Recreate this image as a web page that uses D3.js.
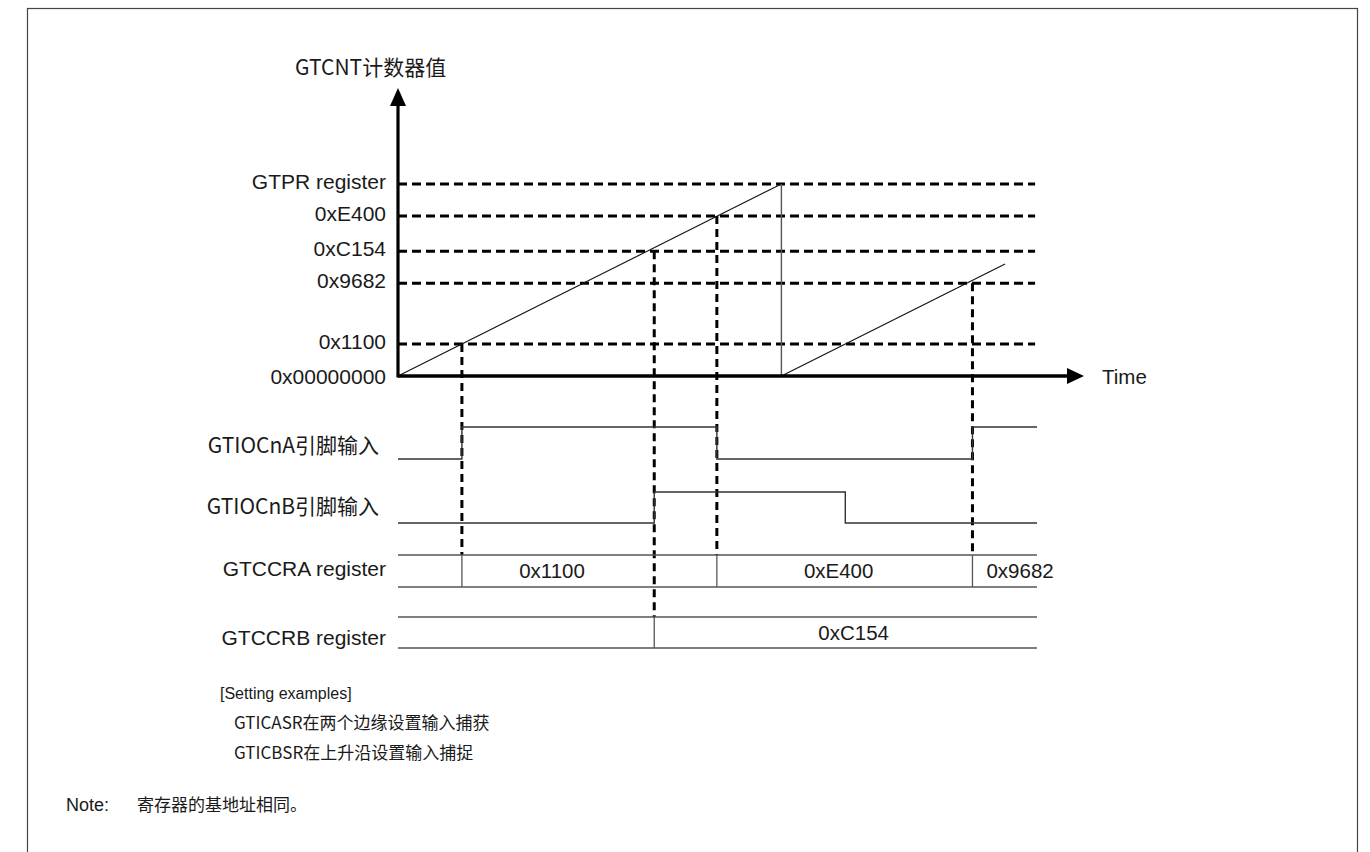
<!DOCTYPE html>
<html>
<head>
<meta charset="utf-8">
<script src="https://cdn.jsdelivr.net/npm/d3@7/dist/d3.min.js"></script>
<style>
  html, body { margin: 0; padding: 0; background: #fff; }
  svg { display: block; }
  .lat { font-family: "Liberation Sans", Arial, sans-serif; fill: #1a1a1a; }
  .cjk { font-family: "Noto Sans CJK SC", "Noto Sans", sans-serif; fill: #1a1a1a; }
</style>
</head>
<body>
<svg id="chart" width="1370" height="852"></svg>
<script>
// ---------------- data ----------------
const timeDomain = [0, 100];                       // schematic time units
const levelNames  = ["0x00000000", "0x1100", "0x9682", "0xC154", "0xE400", "GTPR register"];
const levelValues = [0, 1, 2.9, 3.9, 5, 6];         // schematic counter levels

// GTCNT counter sawtooth: two ramps
const ramp1Times = [0, 60];   const ramp1Levels = [0, 6];
const ramp2Times = [60, 95];  const ramp2Levels = [0, 3.5];

// capture events
const captureTimes  = [10, 40.1, 49.9, 89.9];
const captureLevel  = ["0x1100", "0xC154", "0xE400", "0x9682"];
const captureTarget = ["A", "B", "A", "A"];

// input pin waveforms (state after each time)
const pinATimes  = [0, 10, 49.9, 89.9, 100];
const pinAStates = [0, 1, 0, 1, 1];
const pinBTimes  = [0, 40.1, 70, 100];
const pinBStates = [0, 1, 0, 0];

// register contents
const gtccraValues = ["0x1100", "0xE400", "0x9682"];
const gtccrbValues = ["0xC154"];

const yAxisTitle = "GTCNT计数器值";
const xAxisTitle = "Time";
const rowLabels = ["GTIOCnA引脚输入", "GTIOCnB引脚输入", "GTCCRA register", "GTCCRB register"];
const notesHeader = "[Setting examples]";
const notesLines = ["GTICASR在两个边缘设置输入捕获", "GTICBSR在上升沿设置输入捕捉"];
const noteLabel = "Note:";
const noteText = "寄存器的基地址相同。";

// ---------------- layout ----------------
const svg = d3.select("#chart");
const x = d3.scaleLinear().domain(timeDomain).range([398, 1037]);
const y = d3.scaleLinear().domain([0, 6]).range([376, 184]);
const levelY = name => y(levelValues[levelNames.indexOf(name)]);

// frame
svg.append("rect").attr("x", 27.5).attr("y", 8.5).attr("width", 1330).attr("height", 900)
  .attr("fill", "none").attr("stroke", "#444").attr("stroke-width", 1.2);

// dashed level lines
svg.append("g").selectAll("line").data(levelValues.slice(1)).join("line")
  .attr("x1", x(0)).attr("x2", x(99.7))
  .attr("y1", d => y(d)).attr("y2", d => y(d))
  .attr("stroke", "#000").attr("stroke-width", 3).attr("stroke-dasharray", "9,5");

// level labels
svg.append("g").selectAll("text").data(levelNames).join("text")
  .attr("class", "lat").attr("font-size", 21).attr("text-anchor", "end")
  .attr("x", 386).attr("y", (d, i) => y(levelValues[i]) + (i === 0 ? 8 : 5))
  .text(d => d);

// signal rows
const rowA = {lo: 459, hi: 427};
const rowB = {lo: 523, hi: 492};
const regA = {top: 555, bot: 587};
const regB = {top: 617, bot: 648};

// vertical capture dashed lines
svg.append("g").selectAll("line").data(captureTimes).join("line")
  .attr("x1", d => x(d)).attr("x2", d => x(d))
  .attr("y1", (d, i) => levelY(captureLevel[i]))
  .attr("y2", (d, i) => captureTarget[i] === "A" ? regA.top : regB.top)
  .attr("stroke", "#000").attr("stroke-width", 3).attr("stroke-dasharray", "8,5");

// ramps
const rampLine = d3.line().x(d => x(d[0])).y(d => y(d[1]));
[[ramp1Times, ramp1Levels], [ramp2Times, ramp2Levels]].forEach(([t, l]) => {
  svg.append("path").attr("d", rampLine(t.map((v, i) => [v, l[i]])))
    .attr("fill", "none").attr("stroke", "#111").attr("stroke-width", 1.1);
});
// reset drop
svg.append("line").attr("x1", x(ramp1Times[1])).attr("x2", x(ramp1Times[1]))
  .attr("y1", y(ramp1Levels[1])).attr("y2", y(0))
  .attr("stroke", "#555").attr("stroke-width", 1.4);

// axes
svg.append("line").attr("x1", x(0)).attr("x2", x(0)).attr("y1", y(0) + 1.5).attr("y2", 104)
  .attr("stroke", "#000").attr("stroke-width", 3.2);
svg.append("path").attr("d", `M${x(0)},88 L${x(0) - 8},106 L${x(0) + 8},106 Z`).attr("fill", "#000");
svg.append("line").attr("x1", x(0)).attr("x2", 1069).attr("y1", y(0)).attr("y2", y(0))
  .attr("stroke", "#000").attr("stroke-width", 3.4);
svg.append("path").attr("d", `M1084,${y(0)} L1067,${y(0) - 8} L1067,${y(0) + 8} Z`).attr("fill", "#000");

svg.append("text").attr("class", "cjk").attr("font-size", 21)
  .attr("x", 295).attr("y", 75).text(yAxisTitle);
svg.append("text").attr("class", "lat").attr("font-size", 20.5)
  .attr("x", 1102).attr("y", 384).text(xAxisTitle);

// pin waveforms
function wave(times, states, row) {
  const ys = d3.scaleOrdinal().domain([0, 1]).range([row.lo, row.hi]);
  const ln = d3.line().x(d => x(d[0])).y(d => ys(d[1])).curve(d3.curveStepAfter);
  svg.append("path").attr("d", ln(times.map((t, i) => [t, states[i]])))
    .attr("fill", "none").attr("stroke", "#333").attr("stroke-width", 1.4);
}
wave(pinATimes, pinAStates, rowA);
wave(pinBTimes, pinBStates, rowB);

// register bands
const sortedCaps = captureTimes.slice().sort((a, b) => a - b);
function bandLines(row, capT) {
  const g = svg.append("g");
  [row.top, row.bot].forEach(yy => g.append("line")
    .attr("x1", x(0)).attr("x2", x(100)).attr("y1", yy).attr("y2", yy)
    .attr("stroke", "#555").attr("stroke-width", 1.3));
  g.selectAll("line.sep").data(capT).join("line").attr("class", "sep")
    .attr("x1", d => x(d)).attr("x2", d => x(d)).attr("y1", row.top).attr("y2", row.bot)
    .attr("stroke", "#555").attr("stroke-width", 1.3);
  return g;
}

// GTCCRA: each value is centred between its capture and the next capture event
(function () {
  const capT = captureTimes.filter((t, i) => captureTarget[i] === "A");
  const g = bandLines(regA, capT);
  gtccraValues.forEach((v, i) => {
    const t0 = capT[i];
    const next = sortedCaps.find(t => t > t0);
    const t = g.append("text").attr("class", "lat").attr("font-size", 20.5)
      .attr("y", (regA.top + regA.bot) / 2 + 7).text(v);
    if (next !== undefined) t.attr("text-anchor", "middle").attr("x", x((t0 + next) / 2) - 6);
    else t.attr("text-anchor", "start").attr("x", x(t0) + 14);
  });
})();

// GTCCRB: value spans from its capture to the end of the window
(function () {
  const capT = captureTimes.filter((t, i) => captureTarget[i] === "B");
  const g = bandLines(regB, capT);
  gtccrbValues.forEach((v, i) => {
    g.append("text").attr("class", "lat").attr("font-size", 20.5).attr("text-anchor", "middle")
      .attr("x", x((capT[i] + timeDomain[1]) / 2) + 8).attr("y", (regB.top + regB.bot) / 2 + 7).text(v);
  });
})();

// row labels
const rowLabelY = [453, 514, 576, 645];
rowLabels.forEach((lbl, i) => {
  const isCjk = i < 2;
  svg.append("text").attr("class", isCjk ? "cjk" : "lat").attr("font-size", 21)
    .attr("text-anchor", "end").attr("x", isCjk ? 379 : 386).attr("y", rowLabelY[i]).text(lbl);
});

// notes
svg.append("text").attr("class", "lat").attr("font-size", 16).attr("x", 220).attr("y", 699).text(notesHeader);
notesLines.forEach((l, i) => svg.append("text").attr("class", "cjk").attr("font-size", 17)
  .attr("x", 234).attr("y", 729 + i * 30).text(l));
svg.append("text").attr("class", "lat").attr("font-size", 18).attr("x", 66).attr("y", 811).text(noteLabel);
svg.append("text").attr("class", "cjk").attr("font-size", 17).attr("x", 137).attr("y", 811).text(noteText);
</script>
</body>
</html>
